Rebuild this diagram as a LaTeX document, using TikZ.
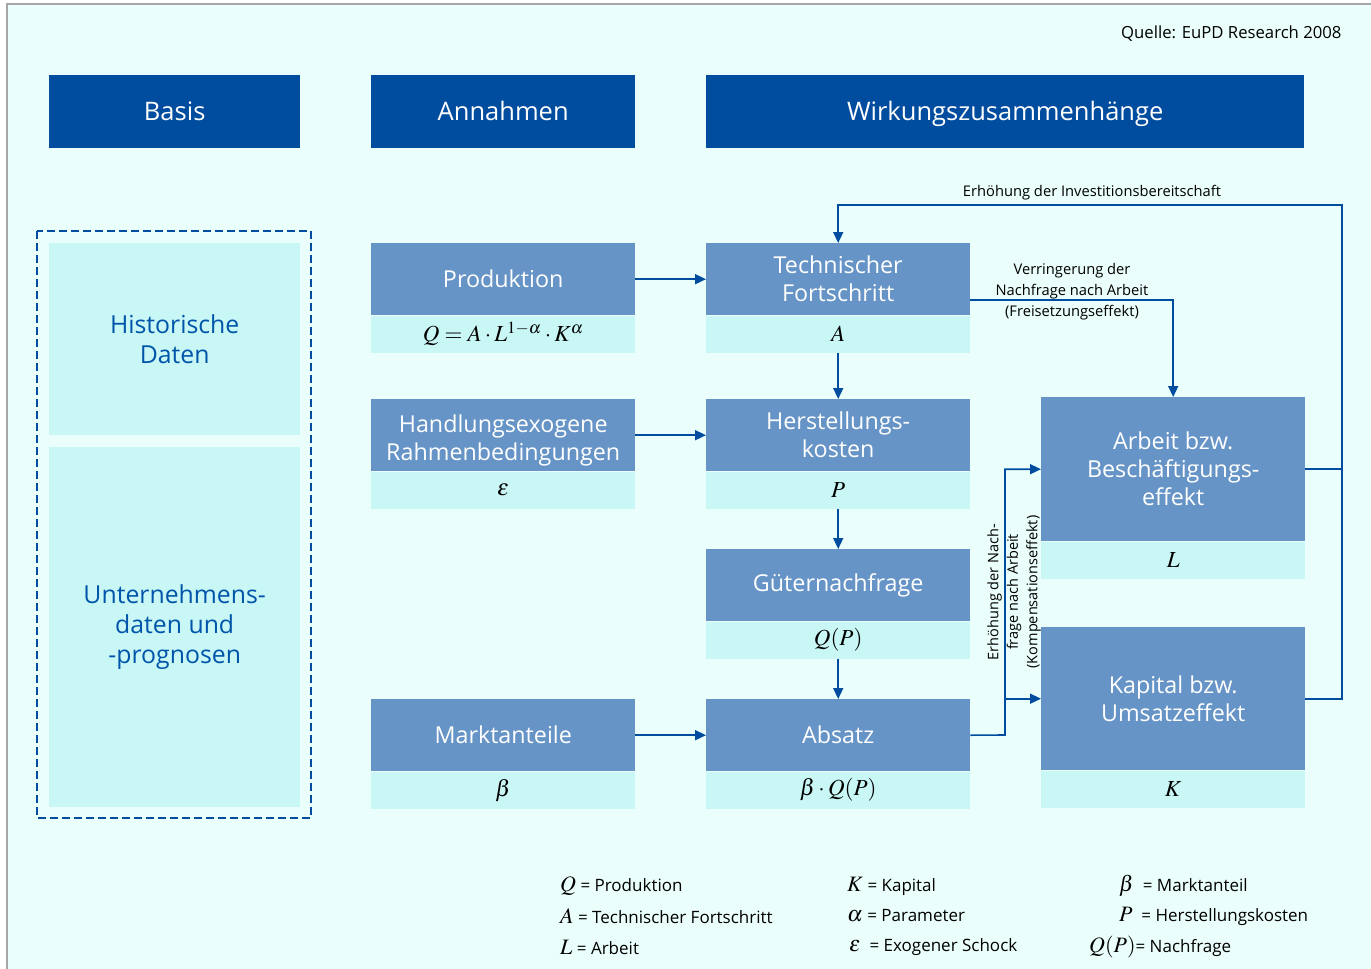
\documentclass[tikz,border=0pt]{standalone}
\usepackage{mathptmx}
\usepackage{fontspec}
\setmainfont{Open Sans}
\usetikzlibrary{arrows.meta,positioning}

\definecolor{bgcyan}{RGB}{234,254,252}
\definecolor{hdrblue}{RGB}{0,76,158}
\definecolor{boxblue}{RGB}{102,148,198}
\definecolor{subcyan}{RGB}{200,247,245}
\definecolor{txtblue}{RGB}{0,85,170}

\newcommand{\legsym}[1]{{\fontsize{22}{22}\selectfont$#1$}}

\tikzset{
  hdr/.style={fill=hdrblue, text=white, minimum height=73, anchor=north west, inner sep=0, text height=18pt, text depth=0pt, font=\fontsize{25.5}{30}\selectfont},
  topbox/.style={fill=boxblue, text=white, minimum width=264, minimum height=72, anchor=north west, inner sep=0, align=center, font=\fontsize{23.3}{28}\selectfont},
  subbox/.style={fill=subcyan, minimum width=264, minimum height=37, anchor=north west, inner sep=0, font=\fontsize{23}{26}\selectfont},
  basisbox/.style={fill=subcyan, text=txtblue, minimum width=251, anchor=north west, inner sep=0, align=center, font=\fontsize{24.8}{30}\selectfont},
  lbl/.style={align=center, font=\fontsize{14.7}{21}\selectfont},
  legend/.style={anchor=west, inner sep=0, font=\fontsize{17}{20}\selectfont},
  conn/.style={draw=hdrblue, line width=1.6},
  arr/.style={conn, -{Triangle[length=11,width=10]}}
}

\begin{document}
\begin{tikzpicture}[x=1pt,y=-1pt]
 \useasboundingbox (0,0) rectangle (1371,969);
 \fill[bgcyan] (7,4) rectangle (1371,969);
 \draw[gray!70, line width=1.2] (7,969) |- (1371,4);

 \node[anchor=east, font=\fontsize{16.7}{20}\selectfont] (quelle) at (1345,34) {Quelle: EuPD Research 2008};

 % headers
 \node[hdr, minimum width=251] (hbasis) at (49,75) {Basis};
 \node[hdr, minimum width=264] (hannahmen) at (371,75) {Annahmen};
 \node[hdr, minimum width=598] (hwirkung) at (706,75) {Wirkungszusammenhänge};

 % basis column
 \draw[hdrblue, line width=1.4, dash pattern=on 8pt off 4pt] (37,231) rectangle (311,818);
 \node[basisbox, minimum height=192] (hist) at (49,243) {Historische\\Daten};
 \node[basisbox, minimum height=360] (unt) at (49,447) {Unternehmens-\\daten und\\-prognosen};

 % annahmen
 \node[topbox] (prod) at (371,243) {Produktion};
 \node[subbox] (prodf) at (prod.south west) {$Q = A\cdot L^{1-\alpha}\cdot K^{\alpha}$};
 \node[topbox] (handl) at (371,399) {\rule{0pt}{28pt}Handlungsexogene\\Rahmenbedingungen};
 \node[subbox] (handlf) at (handl.south west) {$\varepsilon$};
 \node[topbox] (markt) at (371,699) {Marktanteile};
 \node[subbox] (marktf) at (markt.south west) {$\beta$};

 % wirkungszusammenhaenge
 \node[topbox] (tech) at (706,243) {Technischer\\Fortschritt};
 \node[subbox] (techf) at (tech.south west) {$A$};
 \node[topbox] (herst) at (706,399) {Herstellungs-\\kosten};
 \node[subbox] (herstf) at (herst.south west) {$P$};
 \node[topbox] (gueter) at (706,549) {Güternachfrage};
 \node[subbox] (gueterf) at (gueter.south west) {$Q(P)$};
 \node[topbox] (absatz) at (706,699) {Absatz};
 \node[subbox] (absatzf) at (absatz.south west) {$\beta\cdot Q(P)$};
 \node[topbox, minimum height=144] (arbeit) at (1041,397) {Arbeit bzw.\\Beschäftigungs-\\effekt};
 \node[subbox] (arbeitf) at (arbeit.south west) {$L$};
 \node[topbox, minimum height=143] (kapital) at (1041,627) {Kapital bzw.\\Umsatzeffekt};
 \node[subbox] (kapitalf) at (kapital.south west) {$K$};

 % connectors
 \draw[arr] (prod.east) -- (tech.west);
 \draw[arr] (handl.east) -- (herst.west);
 \draw[arr] (markt.east) -- (absatz.west);
 \draw[arr] (techf.south) -- (herst.north);
 \draw[arr] (herstf.south) -- (gueter.north);
 \draw[arr] (gueterf.south) -- (absatz.north);

 \coordinate (knick) at (1005,735);
 \draw[arr] (absatz.east) -- (knick) |- (arbeit.west);
 \draw[arr] (knick) |- (kapital.west);
 \draw[arr] ([yshift=-21pt]tech.east) -| (arbeit.north);

 \coordinate (rueck) at (1342,205);
 \draw[arr] (arbeit.east) -| (rueck) -| (tech.north);
 \draw[conn] (kapital.east) -| (arbeit.east -| rueck);

 % labels
 \node[lbl] (linv) at (1092,193) {Erhöhung der Investitionsbereitschaft};
 \node[lbl] (lfrei) at (1072,292) {Verringerung der\\Nachfrage nach Arbeit\\(Freisetzungseffekt)};
 \node[lbl, rotate=90, font=\fontsize{14.5}{19.5}\selectfont] (lkomp) at (1014,592) {Erhöhung der Nach-\\frage nach Arbeit\\(Kompensationseffekt)};

 % legend
 \node[legend] (lq) at (560,886) {\legsym{Q} = Produktion};
 \node[legend] (la) at (560,916) {\legsym{A} = Technischer Fortschritt};
 \node[legend] (ll) at (560,947) {\legsym{L} = Arbeit};
 \node[legend] (lk) at (847,886) {\legsym{K} = Kapital};
 \node[legend] (lal) at (847,916) {\legsym{\alpha} = Parameter};
 \node[legend] (leps) at (849,947) {\legsym{\varepsilon} \ = Exogener Schock};
 \node[legend] (lb) at (1119,886) {\legsym{\beta} \ = Marktanteil};
 \node[legend] (lp) at (1119,916) {\legsym{P} \ = Herstellungskosten};
 \node[legend] (lqp) at (1089,947) {\legsym{Q(P)}= Nachfrage};
\end{tikzpicture}
\end{document}
